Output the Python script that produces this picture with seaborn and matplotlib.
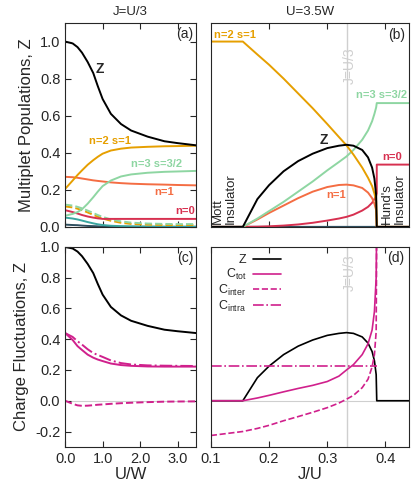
import numpy as np
import pandas as pd
import seaborn as sns
import matplotlib
matplotlib.use('Agg')
import matplotlib.pyplot as plt

# ---- panel (a)/(c): J=U/3, vs U/W ----
u_w = [0.0, 0.2, 0.33, 0.45, 0.6, 0.75, 0.87, 1.0, 1.22, 1.49, 1.76, 2.2, 2.65, 3.0, 3.5]
z_u = [1.0, 0.99, 0.97, 0.94, 0.89, 0.83, 0.76, 0.69, 0.61, 0.555, 0.52, 0.487, 0.462, 0.452, 0.44]
n2s1_u = [0.205, 0.25, 0.28, 0.305, 0.335, 0.36, 0.378, 0.395, 0.412, 0.422, 0.428, 0.432, 0.435, 0.436, 0.438]
n3s32_u = [0.06, 0.07, 0.08, 0.095, 0.125, 0.16, 0.19, 0.22, 0.25, 0.272, 0.283, 0.292, 0.297, 0.299, 0.302]
n1_u = [0.27, 0.268, 0.265, 0.261, 0.256, 0.251, 0.248, 0.245, 0.240, 0.236, 0.233, 0.23, 0.228, 0.226, 0.224]
n0_u = [0.09, 0.08, 0.072, 0.064, 0.056, 0.05, 0.046, 0.043, 0.043, 0.043, 0.043, 0.043, 0.043, 0.043, 0.043]
n2s0_u = [0.11, 0.105, 0.098, 0.09, 0.078, 0.065, 0.055, 0.045, 0.033, 0.022, 0.016, 0.012, 0.01, 0.01, 0.01]
n3s12_u = [0.12, 0.115, 0.108, 0.1, 0.088, 0.075, 0.064, 0.054, 0.04, 0.03, 0.023, 0.018, 0.016, 0.015, 0.015]
teal_u = [0.05, 0.045, 0.04, 0.034, 0.026, 0.019, 0.014, 0.01, 0.006, 0.004, 0.003, 0.002, 0.001, 0.001, 0.001]
dark_u = [0.012, 0.01, 0.009, 0.007, 0.005, 0.004, 0.003, 0.002, 0.001, 0.0, 0.0, 0.0, 0.0, 0.0, 0.0]
ctot_u = [0.44, 0.395, 0.355, 0.33, 0.3, 0.28, 0.268, 0.258, 0.242, 0.232, 0.227, 0.223, 0.222, 0.222, 0.222]
cintra_u = [0.44, 0.415, 0.387, 0.365, 0.335, 0.31, 0.298, 0.285, 0.262, 0.245, 0.236, 0.23, 0.228, 0.227, 0.226]
cinter_u = [0.0, -0.02, -0.03, -0.033, -0.032, -0.029, -0.026, -0.024, -0.02, -0.016, -0.013, -0.009, -0.006, -0.005, -0.004]

# ---- panel (b)/(d): U=3.5W, vs J/U ----
j_u = [0.1, 0.155, 0.18, 0.2, 0.225, 0.25, 0.275, 0.3, 0.32, 0.333, 0.345, 0.36, 0.37, 0.377, 0.381, 0.384, 0.385, 0.385, 0.42, 0.44]
z_j = [0.0, 0.0, 0.15, 0.225, 0.3, 0.355, 0.395, 0.425, 0.438, 0.443, 0.438, 0.415, 0.375, 0.32, 0.26, 0.17, 0.0, 0.0, 0.0, 0.0]
n2s1_j = [1.0, 1.0, 0.93, 0.875, 0.8, 0.72, 0.64, 0.555, 0.485, 0.44, 0.39, 0.32, 0.265, 0.22, 0.18, 0.14, 0.0, 0.0, 0.0, 0.0]
n3s32_j = [0.0, 0.0, 0.045, 0.085, 0.135, 0.19, 0.245, 0.305, 0.35, 0.38, 0.415, 0.47, 0.52, 0.57, 0.61, 0.645, 0.668, 0.668, 0.668, 0.668]
n1_j = [0.0, 0.0, 0.04, 0.075, 0.115, 0.155, 0.19, 0.215, 0.226, 0.228, 0.224, 0.21, 0.185, 0.155, 0.125, 0.09, 0.0, 0.0, 0.0, 0.0]
n0_j = [0.0, 0.0, 0.001, 0.003, 0.007, 0.013, 0.022, 0.034, 0.045, 0.054, 0.066, 0.088, 0.108, 0.13, 0.15, 0.17, 0.18, 0.336, 0.336, 0.336]
ctot_j = [0.0, 0.0, 0.018, 0.035, 0.058, 0.08, 0.1, 0.125, 0.16, 0.2, 0.235, 0.3, 0.37, 0.46, 0.58, 0.8, 1.2, np.nan, np.nan, np.nan]
cinter_j = [-0.226, -0.2, -0.18, -0.16, -0.13, -0.103, -0.075, -0.045, -0.015, 0.01, 0.035, 0.085, 0.14, 0.22, 0.3, 0.45, 1.2, np.nan, np.nan, np.nan]
cintra_j = [0.224, 0.224, 0.224, 0.224, 0.224, 0.224, 0.224, 0.224, 0.224, 0.224, 0.224, 0.224, 0.224, 0.224, 0.224, 0.224, 0.224, np.nan, np.nan, np.nan]
zero_j = [0.0] * len(j_u)

BLACK = '#000000'
ORANGE = '#E69F00'
GREEN = '#8ED6A2'
RED_OR = '#F46D43'
CRIMSON = '#D73050'
TEAL = '#3AA6A0'
DARK = '#2F5060'
MAGENTA = '#D0208C'
GRAY = '#CFCFCF'

sns.set_style('ticks')
plt.rcParams['font.family'] = ['Liberation Sans', 'DejaVu Sans']
plt.rcParams['mathtext.fontset'] = 'custom'
plt.rcParams['mathtext.rm'] = 'Liberation Sans'
plt.rcParams['mathtext.it'] = 'Liberation Sans'


def line(ax, x, y, color, ls='-', lw=1.4, label=None):
    df = pd.DataFrame({'x': x, 'y': y})
    sns.lineplot(data=df, x='x', y='y', ax=ax, color=color, linestyle=ls,
                 linewidth=lw, estimator=None, sort=False, label=label)


def style(ax):
    ax.tick_params(direction='in', top=True, right=True, length=4, labelsize=10.5)
    for s in ax.spines.values():
        s.set_linewidth(0.8)
    ax.set_xlabel('')
    ax.set_ylabel('')


fig = plt.figure(figsize=(4.15, 4.9), dpi=100)
ax_a = fig.add_axes([0.157, 0.537, 0.316, 0.416])
ax_b = fig.add_axes([0.508, 0.537, 0.477, 0.416])
ax_c = fig.add_axes([0.157, 0.088, 0.316, 0.408])
ax_d = fig.add_axes([0.508, 0.088, 0.477, 0.408])

# (a)
line(ax_a, u_w, dark_u, DARK)
line(ax_a, u_w, teal_u, TEAL)
line(ax_a, u_w, n2s0_u, ORANGE, ls='--')
line(ax_a, u_w, n3s12_u, GREEN, ls='--')
line(ax_a, u_w, n0_u, CRIMSON)
line(ax_a, u_w, n1_u, RED_OR)
line(ax_a, u_w, n3s32_u, GREEN)
line(ax_a, u_w, n2s1_u, ORANGE)
line(ax_a, u_w, z_u, BLACK)
ax_a.set_xlim(0, 3.5)
ax_a.set_ylim(0, 1.1)
ax_a.set_xticks([0, 1, 2, 3])
ax_a.set_yticks([0, 0.2, 0.4, 0.6, 0.8, 1.0])
ax_a.set_yticklabels(['0.0', '0.2', '0.4', '0.6', '0.8', '1.0'])
style(ax_a)
ax_a.set_xticklabels([])
ax_a.set_ylabel('Multiplet Populations, Z', fontsize=12)
ax_a.set_title('J=U/3', fontsize=9.5, pad=6)
ax_a.text(0.92, 0.85, 'Z', fontsize=10, fontweight='bold', ha='center', va='center')
ax_a.text(1.2, 0.465, 'n=2 s=1', color=ORANGE, fontsize=8, fontweight='bold', ha='center', va='center')
ax_a.text(2.45, 0.34, 'n=3 s=3/2', color=GREEN, fontsize=8, fontweight='bold', ha='center', va='center')
ax_a.text(2.65, 0.187, 'n=1', color=RED_OR, fontsize=8, fontweight='bold', ha='center', va='center')
ax_a.text(3.2, 0.085, 'n=0', color=CRIMSON, fontsize=8, fontweight='bold', ha='center', va='center')
ax_a.text(3.42, 1.04, '(a)', fontsize=10, ha='right', va='center')

# (b)
ax_b.axvline(1 / 3, color=GRAY, lw=1.0, zorder=0)
line(ax_b, j_u, zero_j, DARK, lw=1.6)
line(ax_b, j_u, n0_j, CRIMSON)
line(ax_b, j_u, n1_j, RED_OR)
line(ax_b, j_u, n3s32_j, GREEN)
line(ax_b, j_u, n2s1_j, ORANGE)
line(ax_b, j_u, z_j, BLACK)
ax_b.set_xlim(0.1, 0.44)
ax_b.set_ylim(0, 1.1)
ax_b.set_xticks([0.2, 0.3, 0.4])
ax_b.set_yticks([])
style(ax_b)
ax_b.set_xticklabels([])
ax_b.set_title('U=3.5W', fontsize=9.5, pad=6)
ax_b.text(0.3395, 0.87, 'J=U/3', color=GRAY, rotation=90, fontsize=10, ha='center', va='center')
ax_b.text(0.106, 1.035, 'n=2 s=1', color=ORANGE, fontsize=8, fontweight='bold', ha='left', va='center')
ax_b.text(0.437, 0.71, 'n=3 s=3/2', color=GREEN, fontsize=8, fontweight='bold', ha='right', va='center')
ax_b.text(0.294, 0.47, 'Z', fontsize=10, fontweight='bold', ha='center', va='center')
ax_b.text(0.411, 0.377, 'n=0', color=CRIMSON, fontsize=8, fontweight='bold', ha='center', va='center')
ax_b.text(0.315, 0.17, 'n=1', color=RED_OR, fontsize=8, fontweight='bold', ha='center', va='center')
ax_b.text(0.433, 1.035, '(b)', fontsize=10, ha='right', va='center')
ax_b.text(0.102, 0.015, 'Mott\nInsulator', rotation=90, fontsize=9.5, ha='left', va='bottom',
          linespacing=1.1)
ax_b.text(0.392, 0.015, "Hund's\nInsulator", rotation=90, fontsize=9.5, ha='left', va='bottom',
          linespacing=1.1)

# (c)
ax_c.axhline(0, color=GRAY, lw=0.8, zorder=0)
line(ax_c, u_w, z_u, BLACK)
line(ax_c, u_w, ctot_u, MAGENTA)
line(ax_c, u_w, cinter_u, MAGENTA, ls='--')
line(ax_c, u_w, cintra_u, MAGENTA, ls='-.')
ax_c.set_xlim(0, 3.5)
ax_c.set_ylim(-0.3, 1.0)
ax_c.set_xticks([0, 1, 2, 3])
ax_c.set_yticks([-0.2, 0, 0.2, 0.4, 0.6, 0.8, 1.0])
style(ax_c)
ax_c.set_xticklabels(['0.0', '1.0', '2.0', '3.0'])
ax_c.set_yticklabels(['-0.2', '0.0', '0.2', '0.4', '0.6', '0.8', '1.0'])
ax_c.set_ylabel('Charge Fluctuations, Z', fontsize=12)
ax_c.set_xlabel('U/W', fontsize=12, labelpad=1)
ax_c.text(3.42, 0.93, '(c)', fontsize=10, ha='right', va='center')

# (d)
ax_d.axvline(1 / 3, color=GRAY, lw=1.0, zorder=0)
ax_d.axhline(0, color=GRAY, lw=0.8, zorder=0)
line(ax_d, j_u, z_j, BLACK, lw=1.2, label='Z')
line(ax_d, j_u, ctot_j, MAGENTA, lw=1.2, label='C$_{tot}$')
line(ax_d, j_u, cinter_j, MAGENTA, ls='--', lw=1.2, label='C$_{inter}$')
line(ax_d, j_u, cintra_j, MAGENTA, ls='-.', lw=1.2, label='C$_{intra}$')
ax_d.set_xlim(0.1, 0.44)
ax_d.set_ylim(-0.3, 1.0)
ax_d.set_xticks([0.1, 0.2, 0.3, 0.4])
ax_d.set_yticks([])
style(ax_d)
ax_d.set_xticklabels(['0.1', '0.2', '0.3', '0.4'])
ax_d.set_xlabel('J/U', fontsize=12, labelpad=1)
ax_d.text(0.3395, 0.83, 'J=U/3', color=GRAY, rotation=90, fontsize=10, ha='center', va='center')
ax_d.text(0.433, 0.93, '(d)', fontsize=10, ha='right', va='center')
ax_d.legend(loc='upper left', frameon=False, markerfirst=False, fontsize=9,
            handlelength=2.3, labelspacing=0.05, borderaxespad=0.2, handletextpad=0.5)

fig.savefig('out.png', dpi=100)
